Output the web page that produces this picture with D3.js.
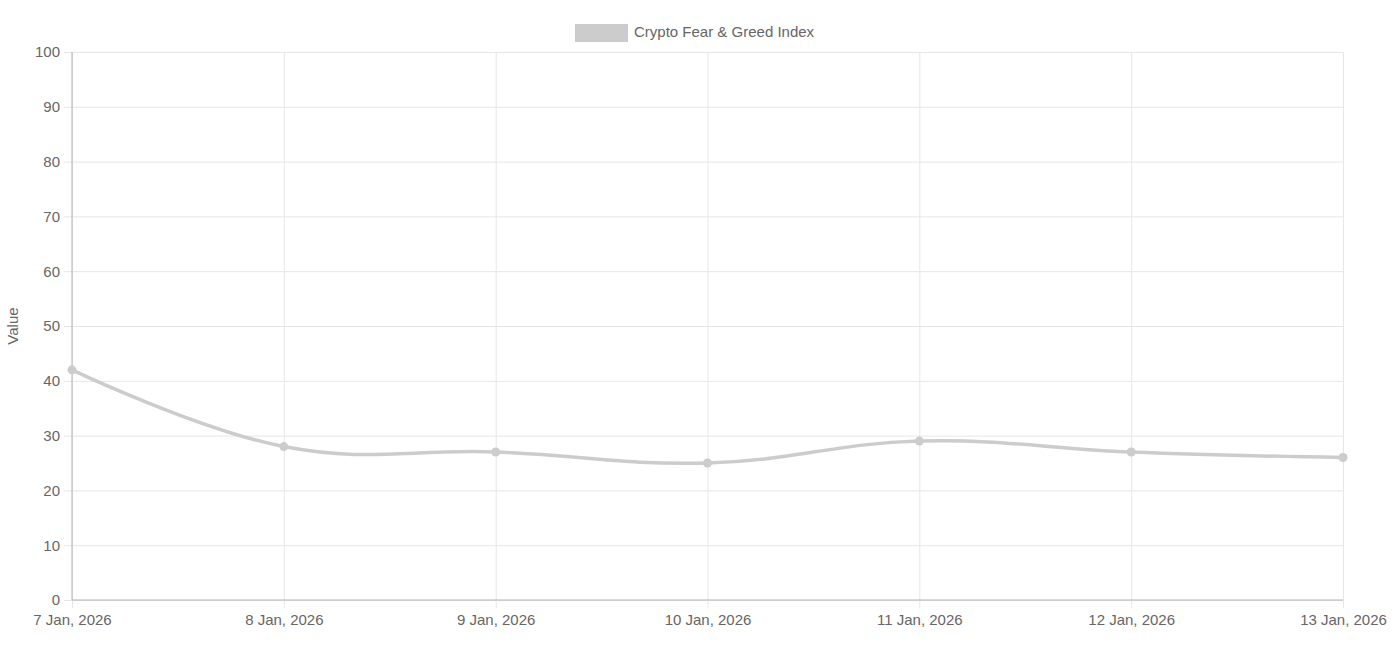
<!DOCTYPE html>
<html>
<head>
<meta charset="utf-8">
<script src="https://cdn.jsdelivr.net/npm/d3@7"></script>
<style>
  body { margin: 0; background: #fff; }
  svg { display: block; font-family: "Liberation Sans", Arial, sans-serif; }
</style>
</head>
<body>
<svg width="1396" height="648"></svg>
<script>
// data
var dates = ["7 Jan, 2026", "8 Jan, 2026", "9 Jan, 2026", "10 Jan, 2026", "11 Jan, 2026", "12 Jan, 2026", "13 Jan, 2026"];
var values = [42, 28, 27, 25, 29, 27, 26];
var yTicks = [0, 10, 20, 30, 40, 50, 60, 70, 80, 90, 100];
var seriesName = "Crypto Fear & Greed Index";

var svg = d3.select("svg"),
    margin = { top: 52, right: 53, bottom: 48, left: 72 },
    width = +svg.attr("width") - margin.left - margin.right,
    height = +svg.attr("height") - margin.top - margin.bottom;

var g = svg.append("g")
    .attr("transform", "translate(" + margin.left + "," + margin.top + ")");

var x = d3.scalePoint()
    .domain(dates)
    .range([0, width]);

var y = d3.scaleLinear()
    .domain([0, 100])
    .range([height, 0]);

// horizontal grid + ticks
g.append("g")
    .attr("class", "grid-y")
    .call(d3.axisLeft(y).tickValues(yTicks).tickSize(-width - 8).tickPadding(4))
    .call(function(a) {
        a.select(".domain").remove();
        a.selectAll(".tick line").attr("x1", -8).attr("x2", width).attr("stroke", "#e6e6e6");
        a.selectAll(".tick text").attr("fill", "#666").style("font-size", "15px").attr("x", -12);
    });

// vertical grid + ticks
g.append("g")
    .attr("class", "grid-x")
    .attr("transform", "translate(0," + height + ")")
    .call(d3.axisBottom(x).tickSize(0).tickPadding(0))
    .call(function(a) {
        a.select(".domain").remove();
        a.selectAll(".tick line").attr("y1", -height).attr("y2", 8).attr("stroke", "#e6e6e6");
        a.selectAll(".tick text").attr("fill", "#666").style("font-size", "15px").attr("y", 14).attr("dy", "0.71em");
    });

// axis lines
g.append("line")
    .attr("x1", 0).attr("x2", 0).attr("y1", 0).attr("y2", height)
    .attr("stroke", "#b3b3b3");
g.append("line")
    .attr("x1", 0).attr("x2", width).attr("y1", height).attr("y2", height)
    .attr("stroke", "#b3b3b3");

// y title
svg.append("text")
    .attr("transform", "translate(18," + (margin.top + height / 2) + ") rotate(-90)")
    .attr("text-anchor", "middle")
    .attr("fill", "#666")
    .style("font-size", "15px")
    .text("Value");

// line
var line = d3.line()
    .x(function(d, i) { return x(dates[i]); })
    .y(function(d) { return y(d); })
    .curve(d3.curveCardinal.tension(-0.2));

g.append("path")
    .datum(values)
    .attr("fill", "none")
    .attr("stroke", "#cccccc")
    .attr("stroke-width", 3.5)
    .attr("d", line);

g.selectAll(".dot")
    .data(values)
    .enter().append("circle")
    .attr("class", "dot")
    .attr("cx", function(d, i) { return x(dates[i]); })
    .attr("cy", function(d) { return y(d); })
    .attr("r", 4.5)
    .attr("fill", "#cccccc");

// legend
var legend = svg.append("g").attr("transform", "translate(575,24)");
legend.append("rect")
    .attr("width", 53).attr("height", 18)
    .attr("fill", "#cccccc");
legend.append("text")
    .attr("x", 59).attr("y", 8).attr("dy", "0.35em")
    .attr("fill", "#666")
    .style("font-size", "15px")
    .text(seriesName);
</script>
</body>
</html>
